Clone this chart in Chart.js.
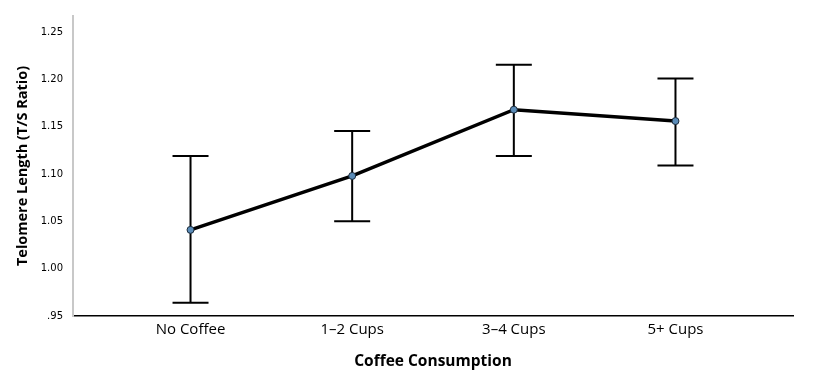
<!DOCTYPE html>
<html><head><meta charset="utf-8">
<script src="https://cdn.jsdelivr.net/npm/chart.js@4"></script>
<style>html,body{margin:0;padding:0;background:#fff}#wrap{width:819px;height:384px}</style>
</head><body><div id="wrap"><canvas id="c" width="819" height="384"></canvas></div>
<script>
const categories = ["No Coffee", "1\u20132 Cups", "3\u20134 Cups", "5+ Cups"];
const meanValues = [1.041, 1.098, 1.168, 1.156];
const upperValues = [1.119, 1.1455, 1.2155, 1.201];
const lowerValues = [0.964, 1.050, 1.119, 1.109];
const yTicks = [0.95, 1.00, 1.05, 1.10, 1.15, 1.20, 1.25];
const yTickLabels = [".95", "1.00", "1.05", "1.10", "1.15", "1.20", "1.25"];

const errorBars = {
  id: 'errorBars',
  beforeDatasetsDraw(chart) {
    const ctx = chart.ctx, xs = chart.scales.x, ys = chart.scales.y;
    ctx.save();
    ctx.strokeStyle = '#000';
    ctx.lineWidth = 2;
    const half = 18;
    categories.forEach((c, i) => {
      const x = xs.getPixelForValue(i);
      const yt = ys.getPixelForValue(upperValues[i]);
      const yb = ys.getPixelForValue(lowerValues[i]);
      ctx.beginPath();
      ctx.moveTo(x, yt); ctx.lineTo(x, yb);
      ctx.moveTo(x - half, yt); ctx.lineTo(x + half, yt);
      ctx.moveTo(x - half, yb); ctx.lineTo(x + half, yb);
      ctx.stroke();
    });
    ctx.restore();
  }
};

new Chart(document.getElementById('c'), {
  type: 'line',
  data: {
    datasets: [{
      data: meanValues.map((v, i) => ({x: i, y: v})),
      borderColor: '#000',
      borderWidth: 3.5,
      pointRadius: 3.5,
      pointBackgroundColor: '#5b8cb8',
      pointBorderColor: '#1b2b3b',
      pointBorderWidth: 1,
      tension: 0
    }]
  },
  options: {
    responsive: false,
    animation: false,
    devicePixelRatio: 1,
    layout: {padding: {top: 15, right: 26, left: 0, bottom: 0}},
    plugins: {legend: {display: false}, tooltip: {enabled: false}},
    scales: {
      x: {
        type: 'linear',
        min: -0.727, max: 3.727,
        afterBuildTicks(s) { s.ticks = categories.map((c, i) => ({value: i})); },
        afterFit(s) { s.height = 68; },
        grid: {display: false, drawTicks: false},
        border: {color: '#000', width: 1.5},
        ticks: {
          callback: (v) => categories[v],
          color: '#000',
          font: {family: 'Open Sans', size: 15},
          padding: 5,
          maxRotation: 0, autoSkip: false
        },
        title: {
          display: true, text: 'Coffee Consumption', color: '#000',
          font: {family: 'Open Sans', size: 15.5, weight: 'bold'},
          padding: {top: 8, bottom: 13}
        }
      },
      y: {
        min: 0.95, max: 1.267,
        afterBuildTicks(s) { s.ticks = yTicks.map(v => ({value: v})); },
        afterFit(s) { s.width = 73; },
        grid: {display: false, drawTicks: false},
        border: {color: '#c8c8c8', width: 2},
        ticks: {
          callback: (v) => { const i = yTicks.findIndex(t => Math.abs(t - v) < 1e-6); return i >= 0 ? yTickLabels[i] : ''; },
          color: '#000',
          font: {family: 'DejaVu Sans', size: 10},
          padding: 10
        },
        title: {
          display: true, text: 'Telomere Length (T/S Ratio)', color: '#000',
          font: {family: 'Open Sans', size: 14.5, weight: 'bold'},
          padding: {top: 14, bottom: 8}
        }
      }
    }
  },
  plugins: [errorBars]
});
</script></body></html>
